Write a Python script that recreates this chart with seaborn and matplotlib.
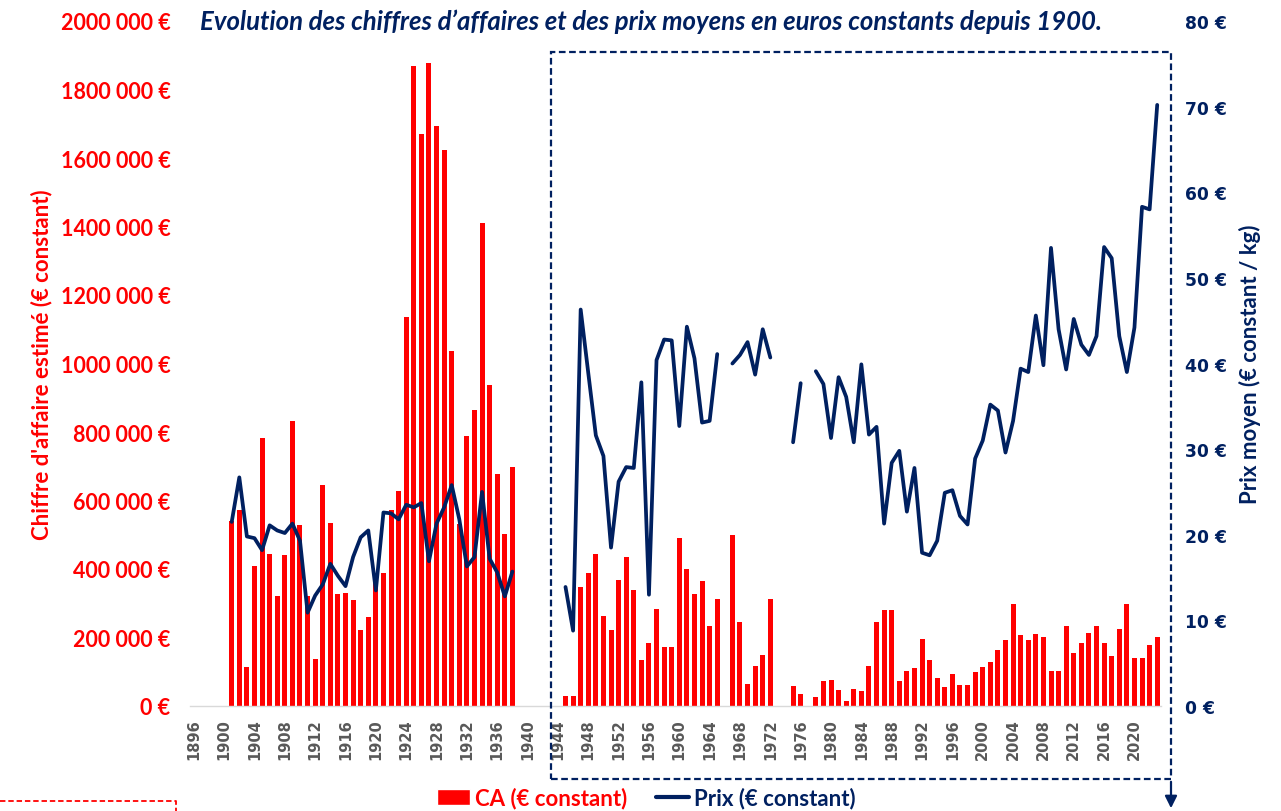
import numpy as np
import pandas as pd
import seaborn as sns
import matplotlib.pyplot as plt
from matplotlib.patches import Rectangle, FancyArrowPatch
from matplotlib.lines import Line2D

# ---- data (CA in thousands of constant euros, price in constant euros / kg)
years_1 = list(range(1901, 1939))
ca_1 = [540, 571, 114, 410, 783, 444, 321, 440, 831, 529,
        320, 136, 645, 533, 326, 329, 310, 222, 260, 380,
        387, 571, 628, 1136, 1870, 1669, 1876, 1692, 1624, 1037,
        531, 787, 863, 1409, 936, 677, 501, 698]
prix_1 = [21.5, 26.7, 19.8, 19.6, 18.2, 21.1, 20.5, 20.2, 21.3, 19.3,
          10.9, 12.9, 14.2, 16.6, 15.2, 14.0, 17.4, 19.7, 20.5, 13.5,
          22.6, 22.5, 21.8, 23.5, 23.2, 23.7, 16.9, 21.3, 23.2, 25.8,
          21.8, 16.3, 17.4, 25.0, 17.2, 15.6, 12.8, 15.7]

years_2 = list(range(1945, 2024))
ca_2 = [29, 29, 347, 387, 444, 263, 222, 368, 434, 340,
        133, 184, 283, 171, 171, 491, 400, 326, 364, 235,
        311, None, 498, 245, 63, 118, 149, 311, None, None,
        57, 34, None, 25, 72, 76, 48, 15, 51, 44,
        118, 245, 279, 279, 72, 102, 110, 197, 133, 83,
        55, 93, 60, 60, 98, 114, 129, 164, 194, 298,
        206, 194, 209, 202, 102, 102, 235, 156, 184, 213,
        235, 184, 146, 225, 298, 140, 140, 178, 202]
prix_2 = [13.9, 8.8, 46.3, 38.9, 31.6, 29.2, 18.5, 26.2, 27.9, 27.8,
          37.8, 13.0, 40.4, 42.8, 42.7, 32.7, 44.3, 40.6, 33.1, 33.3,
          41.1, None, 40.0, 41.0, 42.5, 38.7, 44.0, 40.7, None, None,
          30.8, 37.7, None, 39.1, 37.6, 31.3, 38.4, 36.1, 30.8, 39.9,
          31.7, 32.6, 21.3, 28.4, 29.8, 22.7, 27.8, 17.9, 17.6, 19.3,
          24.9, 25.2, 22.2, 21.2, 28.9, 31.0, 35.2, 34.5, 29.6, 33.3,
          39.4, 39.0, 45.6, 39.8, 53.5, 44.0, 39.3, 45.2, 42.2, 41.0,
          43.2, 53.6, 52.3, 43.2, 39.0, 44.2, 58.3, 58.0, 70.2]

tick_years = list(range(1896, 2024, 4))
left_ticks = [0, 200000, 400000, 600000, 800000, 1000000,
              1200000, 1400000, 1600000, 1800000, 2000000]
left_labels = ["0 €", "200 000 €", "400 000 €", "600 000 €", "800 000 €",
               "1000 000 €", "1200 000 €", "1400 000 €", "1600 000 €",
               "1800 000 €", "2000 000 €"]
right_ticks = [0, 10, 20, 30, 40, 50, 60, 70, 80]
right_labels = ["0 €", "10 €", "20 €", "30 €", "40 €", "50 €", "60 €", "70 €", "80 €"]

title = "Evolution des chiffres d’affaires et des prix moyens en euros constants depuis 1900."

RED = "#FF0000"
NAVY = "#002060"
GREY = "#595959"

df = pd.DataFrame({
    "year": years_1 + years_2,
    "ca": [v * 1000 if v is not None else np.nan for v in ca_1 + ca_2],
    "prix": [v if v is not None else np.nan for v in prix_1 + prix_2],
})
# line segments (gaps where no price is known)
df["seg"] = df["prix"].isna().cumsum() + (df["year"] > 1940) * 100

sns.set_theme(style="white")
plt.rcParams['font.family'] = ['Lato', 'DejaVu Sans']

W, H = 1281, 812
fig = plt.figure(figsize=(W / 100, H / 100), dpi=100)
ax = fig.add_axes([190 / W, 1 - 707 / H, (1161 - 190) / W, (707 - 22) / H])

sns.barplot(data=df, x="year", y="ca", native_scale=True, color=RED,
            saturation=1, width=0.66, errorbar=None, linewidth=0, ax=ax)
ax.set_xlim(1895.5, 2023.5)
ax.set_ylim(0, 2000000)
ax.set_xticks(tick_years)
ax.set_xticklabels([str(y) for y in tick_years], rotation=90,
                   family="DejaVu Sans", weight="bold", size=10.5, color=GREY)
ax.set_yticks(left_ticks)
ax.set_yticklabels(left_labels, weight="bold", size=15.5, color=RED)
ax.tick_params(axis="both", length=0)
ax.tick_params(axis="y", pad=14)
ax.tick_params(axis="x", pad=9)
ax.set_xlabel("")
ax.set_ylabel("Chiffre d'affaire estimé (€ constant)", weight="bold",
              size=16, color=RED)
for s in ["top", "left", "right"]:
    ax.spines[s].set_visible(False)
ax.spines["bottom"].set_color("#d9d9d9")
ax.spines["bottom"].set_linewidth(1)

ax2 = ax.twinx()
sns.lineplot(data=df, x="year", y="prix", units="seg", estimator=None,
             color=NAVY, linewidth=2.7, legend=False, ax=ax2)
ax2.set_ylim(0, 80)
ax2.set_xlim(1895.5, 2023.5)
ax2.set_yticks(right_ticks)
ax2.set_yticklabels(right_labels, family="DejaVu Sans", weight="bold",
                    size=12.3, color=NAVY)
ax2.tick_params(axis="y", length=0, pad=17)
ax2.set_ylabel("Prix moyen (€ constant / kg)", weight="bold", size=16,
               color=NAVY)
for s in ["top", "left", "right", "bottom"]:
    ax2.spines[s].set_visible(False)
ax2.grid(False)
ax.grid(False)

ax.yaxis.set_label_coords(-(190 - 52) / (1161 - 190), 0.5)
ax2.yaxis.set_label_coords((1239 - 190) / (1161 - 190), 0.5)

# title
fig.text(651 / W, 1 - 22 / H, title, ha="center", va="center", color=NAVY,
         weight="bold", style="italic", size=18.5)

# dashed frame around the post-war period
fig.add_artist(Rectangle((551 / W, 1 - 780 / H), (1171 - 551) / W, (780 - 53) / H,
                         transform=fig.transFigure, fill=False, edgecolor=NAVY,
                         linewidth=1.6, linestyle=(0, (3, 1.6))))
fig.add_artist(FancyArrowPatch((1171 / W, 1 - 780 / H), (1171 / W, 0.0),
                               transform=fig.transFigure, arrowstyle="-|>",
                               mutation_scale=18, color=NAVY, linewidth=1.6))
# red dashed corner bottom left
fig.add_artist(Line2D([0, 176 / W, 176 / W], [1 - 802 / H, 1 - 802 / H, 0],
                      transform=fig.transFigure, color=RED, linewidth=1.3,
                      linestyle=(0, (3, 1.6))))

handles = [Rectangle((0, 0), 1, 1, facecolor=RED),
           Line2D([], [], color=NAVY, linewidth=3)]
fig.legend(handles, ["CA (€ constant)", "Prix (€ constant)"], loc="center",
           bbox_to_anchor=(646 / W, 1 - 799 / H), ncol=2, frameon=False,
           labelcolor=[RED, NAVY], prop=dict(weight="bold", size=16),
           handlelength=1.5, handletextpad=0.2, columnspacing=1.3,
           borderpad=0)

plt.savefig("out.png", dpi=100)
